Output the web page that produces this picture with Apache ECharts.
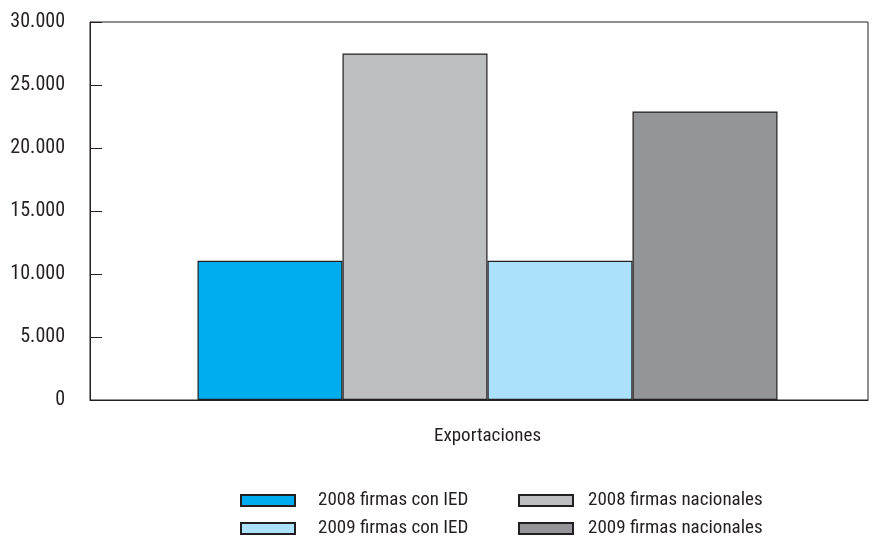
<!DOCTYPE html>
<html>
<head>
<meta charset="utf-8">
<script src="https://cdn.jsdelivr.net/npm/echarts@6/dist/echarts.min.js"></script>
<style>
  html, body { margin: 0; padding: 0; background: #fff; }
  #chart { width: 874px; height: 539px; }
</style>
</head>
<body>
<div id="chart"></div>
<script>
// datos
const categories = ["Exportaciones"];
const seriesNames = ["2008 firmas con IED", "2008 firmas nacionales", "2009 firmas con IED", "2009 firmas nacionales"];
const ied2008 = [11050];
const nac2008 = [27500];
const ied2009 = [11050];
const nac2009 = [22900];
const colors = ["#00aeef", "#bcbec0", "#abe1fa", "#939598"];

const font = '"Roboto Condensed", "Liberation Sans Narrow", "Roboto", sans-serif';
const ink = "#231f20";
const values = [ied2008, nac2008, ied2009, nac2009];

function legendCol(names, left, textPad) {
  return {
    data: names.map((n) => ({ name: n, icon: "rect" })),
    orient: "vertical",
    left: left, top: 486, height: 60,
    itemWidth: 54, itemHeight: 11, itemGap: 9,
    textStyle: { fontFamily: font, fontSize: 19, lineHeight: 18, color: ink, padding: [0, 0, 0, textPad] },
  };
}

let chart = echarts.init(document.getElementById("chart"));
chart.setOption({
  animation: false,
  textStyle: { fontFamily: font },
  // grid 0: marco y ejes visibles; grid 1: barras y etiqueta de categoría (desplazadas como en el original)
  grid: [
    { left: 90, right: 6, top: 22, bottom: 139, show: true, borderColor: ink, borderWidth: 1 },
    { left: 107, right: 6, top: 22, bottom: 139 },
  ],
  legend: [
    legendCol([seriesNames[0], seriesNames[2]], 235, 18),
    legendCol([seriesNames[1], seriesNames[3]], 513, 10),
  ],
  xAxis: [
    {
      gridIndex: 0,
      type: "category",
      data: categories,
      axisLine: { lineStyle: { color: ink } },
      axisTick: { show: false },
      axisLabel: { show: false },
    },
    {
      gridIndex: 1,
      type: "category",
      data: categories,
      axisLine: { show: false },
      axisTick: { show: false },
      axisLabel: { margin: 27, fontSize: 19, color: ink, fontFamily: font },
    },
  ],
  yAxis: [
    {
      gridIndex: 0,
      type: "value",
      min: 0, max: 30000, interval: 5000,
      axisLine: { show: true, lineStyle: { color: ink } },
      axisTick: { show: true, inside: true, length: 12, lineStyle: { color: ink } },
      splitLine: { show: false },
      axisLabel: {
        margin: 25, fontSize: 20, color: ink, fontFamily: font,
        formatter: (v) => v === 0 ? "0" : v.toLocaleString("de-DE"),
      },
    },
    { gridIndex: 1, type: "value", min: 0, max: 30000, show: false, splitLine: { show: false } },
  ],
  series: seriesNames.map((name, i) => ({
    name: name,
    type: "bar",
    xAxisIndex: 1,
    yAxisIndex: 1,
    data: values[i],
    barWidth: 145,
    barGap: "0%",
    itemStyle: { color: colors[i], borderColor: ink, borderWidth: 1.2 },
  })),
});
</script>
</body>
</html>
